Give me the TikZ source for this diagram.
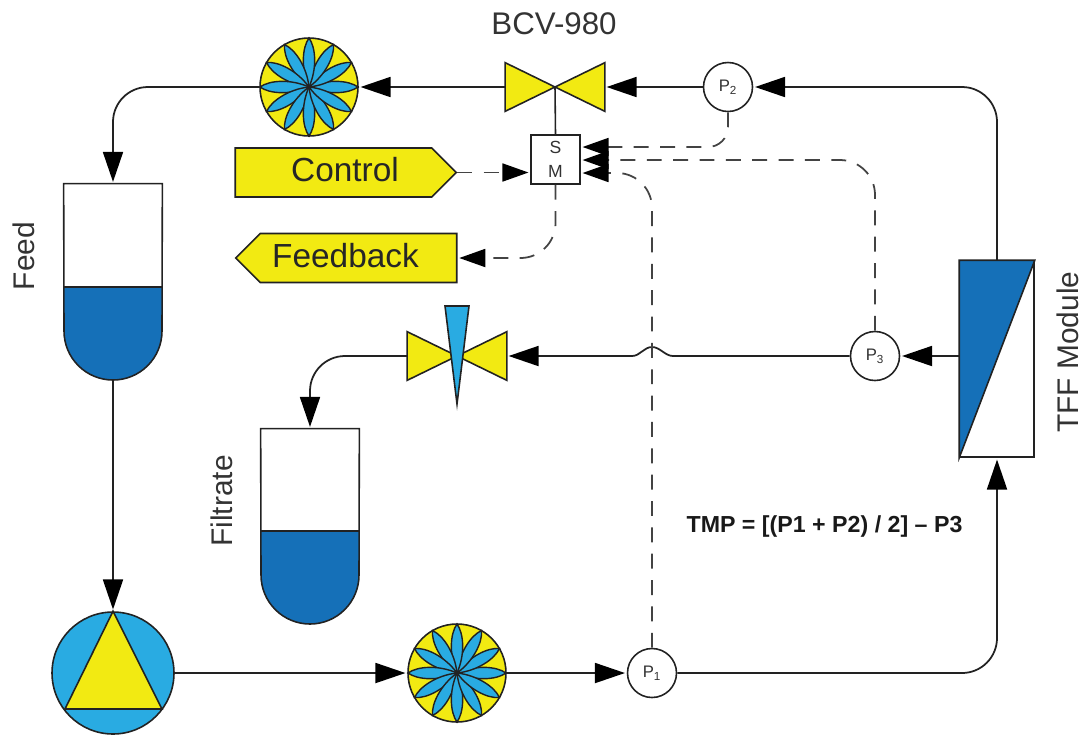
\documentclass[tikz,border=0pt]{standalone}
\usepackage{fontspec}
\setmainfont{Liberation Sans}
\usepackage{tikz}
\usetikzlibrary{arrows.meta,positioning,calc,shapes.symbols}

\definecolor{padyellow}{HTML}{F2EA12}
\definecolor{padblue}{HTML}{29ABE2}
\definecolor{paddark}{HTML}{1570B8}
\definecolor{padline}{HTML}{222222}
\definecolor{padtext}{HTML}{333333}

\tikzset{
  x=.02cm,y=.02cm,
  flow/.style={draw=padline,line width=1pt,rounded corners=.7cm,shorten >=1pt,-{Triangle[length=.6cm,width=.4cm,sharp,black]}},
  sense/.style={draw=padline!85,line width=1pt,dash pattern=on 8.5pt off 6.5pt,rounded corners=.7cm,shorten >=1pt,-{Triangle[length=.52cm,width=.36cm,sep=0pt,sharp,black]}},
  partline/.style={draw=padline,line width=.9pt},
  rotorbody/.style={circle,partline,fill=padyellow,minimum size=1.96cm,inner sep=0pt},
  petal/.style={draw=padline,line width=.8pt,fill=padblue},
  gauge/.style={circle,partline,fill=white,minimum size=.98cm,inner sep=0pt,text=padtext,font=\fontsize{9.5}{11}\selectfont},
  valvebody/.style={minimum width=1.98cm,minimum height=.96cm,inner sep=0pt},
  tankbody/.style={minimum width=1.96cm,inner sep=0pt},
  panel/.style={signal,partline,fill=padyellow,signal pointer angle=90,minimum width=4.42cm,minimum height=.98cm,inner sep=0pt,text=black!85,font=\fontsize{19}{22}\selectfont},
  caption/.style={text=padtext,font=\fontsize{17}{20}\selectfont},
}

\begin{document}
\begin{tikzpicture}
  \useasboundingbox (0,0) rectangle (1087,-735);

  % Feed tank
  \node[tankbody,minimum height=3.92cm] (feed) at (113,-282) {};
  \fill[paddark] (feed.west |- 0,-287) -- (feed.east |- 0,-287) -- (162,-331)
    arc[start angle=0,end angle=-180,radius=49] -- cycle;
  \draw[partline] (feed.north west) -- (feed.north east) -- (162,-331)
    arc[start angle=0,end angle=-180,radius=49] -- cycle;
  \draw[partline] (64,-287) -- (162,-287);
  \node[caption,rotate=90] at (24,-256) {Feed};

  % Filtrate tank
  \node[tankbody,minimum height=3.9cm] (filtrate) at (310,-526.5) {};
  \fill[paddark] (261,-531) -- (359,-531) -- (359,-575)
    arc[start angle=0,end angle=-180,radius=49] -- cycle;
  \draw[partline] (filtrate.north west) -- (filtrate.north east) -- (359,-575)
    arc[start angle=0,end angle=-180,radius=49] -- cycle;
  \draw[partline] (261,-531) -- (359,-531);
  \node[caption,rotate=90] at (222,-501) {Filtrate};

  % Pump
  \node[circle,partline,fill=padblue,minimum size=2.44cm,inner sep=0pt] (pump) at (113,-673) {};
  \draw[partline,fill=padyellow] (pump.north) -- (65,-709) -- (162,-709) -- cycle;

  % Rotors
  \node[rotorbody] (rotorTop) at (309,-87) {};
  \node[rotorbody] (rotorLow) at (457,-673) {};
  \foreach \c in {rotorTop,rotorLow}
    \foreach \a in {0,30,...,330}
      \draw[petal] (\c.center) .. controls ($(\c.center)+(\a+24:20)$) and ($(\c.center)+(\a+10:40)$) .. ($(\c.center)+(\a:49)$)
        .. controls ($(\c.center)+(\a-10:40)$) and ($(\c.center)+(\a-24:20)$) .. (\c.center);

  % Control valve and actuator
  \node[valvebody] (bcv) at (555,-87) {};
  \draw[partline,fill=padyellow] (bcv.north west) -- (bcv.south west) -- (bcv.center) -- cycle;
  \draw[partline,fill=padyellow] (bcv.north east) -- (bcv.south east) -- (bcv.center) -- cycle;
  \node[caption,font=\fontsize{17.8}{20}\selectfont] at (554,-24) {BCV-980};
  \node[partline,fill=white,minimum size=.98cm,inner sep=0pt,align=center,text=padtext,
    font=\fontsize{10}{14}\selectfont] (sm) at (555.5,-159.5) {S\\M};
  \draw[partline] (bcv.center) -- (sm.north);

  % Filtrate valve
  \node[valvebody] (fv) at (457,-356) {};
  \draw[partline,fill=padyellow] (fv.north west) -- (fv.south west) -- (fv.center) -- cycle;
  \draw[partline,fill=padyellow] (fv.north east) -- (fv.south east) -- (fv.center) -- cycle;
  \draw[partline,fill=padblue] (445,-306) -- (469,-306) -- (457,-404) -- cycle;

  % Control and feedback panels
  \node[panel,signal to=east] (control) at (333.5,-172.5) {\hspace*{.46cm}\raisebox{3.2pt}{Control}};
  \node[panel,signal to=west] (fback) at (358.5,-258) {\raisebox{2.8pt}{Feedback}\hspace*{.52cm}};

  % Pressure gauges
  \node[gauge] (p1) at (652,-673) {P\textsubscript{1}};
  \node[gauge] (p2) at (728,-87) {P\textsubscript{2}};
  \node[gauge] (p3) at (875,-356) {P\textsubscript{3}};

  % TFF module
  \node[minimum width=1.48cm,minimum height=3.92cm,inner sep=0pt,partline,fill=white] (tff) at (997,-359) {};
  \draw[partline,fill=paddark] (tff.north west) -- (tff.north east) -- (tff.south west) -- cycle;
  \node[caption,rotate=90] at (1068,-352) {TFF Module};

  % Process lines
  \draw[flow] (feed.south) -- (pump.north);
  \draw[flow] (pump.east) -- (rotorLow.west);
  \draw[flow] (rotorLow.east) -- (p1.west);
  \draw[flow] (p1.east) -- (tff.south |- p1.east) -- (tff.south);
  \draw[flow] (tff.north) -- (tff.north |- p2.east) -- (p2.east);
  \draw[flow] (p2.west) -- (bcv.east);
  \draw[flow] (bcv.west) -- (rotorTop.east);
  \draw[flow] (rotorTop.west) -- (feed.north |- rotorTop.west) -- (feed.north);
  \draw[flow] (tff.west |- p3.east) -- (p3.east);
  \draw[flow,sharp corners] (p3.west) -- (673,-356) .. controls (665,-356) and (660,-347) .. (652,-347)
    .. controls (644,-347) and (640,-356) .. (632,-356) -- (fv.east);
  \draw[flow] (fv.west) -- (filtrate.north |- fv.west) -- (filtrate.north);

  % Signal lines
  \coordinate (smA) at (sm.north east |- 0,-147);
  \coordinate (smB) at (sm.north east |- 0,-160);
  \coordinate (smC) at (sm.north east |- 0,-173);
  \coordinate (smD) at (sm.north west |- control.east);
  \draw[sense,rounded corners=.4cm] (p2.south) -- (p2.south |- smA) -- (smA);
  \draw[sense] (p3.north) -- (p3.north |- smB) -- (smB);
  \draw[sense] (p1.north) -- (p1.north |- smC) -- (smC);
  \draw[sense] (control.east) -- (smD);
  \draw[sense] (sm.south) -- (sm.south |- fback.east) -- (fback.east);

  % Equation
  \node[font=\bfseries\fontsize{13.2}{15}\selectfont,text=black!90] (tmp) at (824.5,-526) {TMP = [(P1 + P2) / 2] – P3};
\end{tikzpicture}
\end{document}
